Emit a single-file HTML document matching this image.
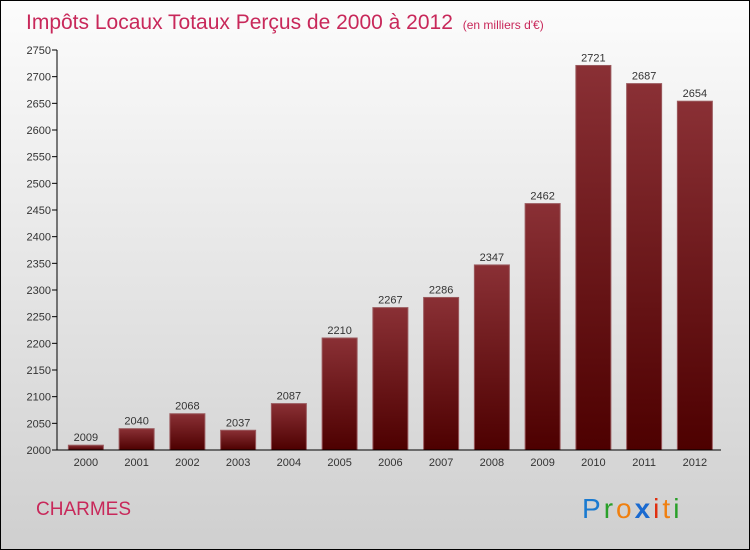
<!DOCTYPE html>
<html><head><meta charset="utf-8"><style>
body{margin:0;width:750px;height:550px;overflow:hidden}
#wrap{position:absolute;left:0;top:0;width:748px;height:548px;border:1px solid #000;background:linear-gradient(#fcfcfc,#cfcfcf)}
text{font-family:"Liberation Sans",sans-serif}
</style></head><body>
<div id="wrap">
<svg id="chart" width="750" height="550" style="position:absolute;left:-1px;top:-1px">
<defs><linearGradient id="bg" x1="0" y1="0" x2="0" y2="1"><stop offset="0" stop-color="#8a3035"/><stop offset="1" stop-color="#4d0000"/></linearGradient></defs>
<text x="26" y="29" font-size="21" fill="#c8285a">Impôts Locaux Totaux Perçus de 2000 à 2012 <tspan font-size="12" dx="4">(en milliers d'€)</tspan></text>
<text x="36" y="515" font-size="19" fill="#c8285a">CHARMES</text>
<text x="582" y="518" font-size="28" letter-spacing="3"><tspan fill="#1a7ad0">P</tspan><tspan fill="#2aa02a">r</tspan><tspan fill="#f08010">o</tspan><tspan fill="#1a6ad0" font-weight="bold">x</tspan><tspan fill="#e03010">i</tspan><tspan fill="#f08010">t</tspan><tspan fill="#2aa02a">i</tspan></text>
</svg>
</div>
<script>
const years=["2000","2001","2002","2003","2004","2005","2006","2007","2008","2009","2010","2011","2012"];
const values=[2009,2040,2068,2037,2087,2210,2267,2286,2347,2462,2721,2687,2654];
const yTicks=[2000,2050,2100,2150,2200,2250,2300,2350,2400,2450,2500,2550,2600,2650,2700,2750];
const svg=document.getElementById('chart');const NS='http://www.w3.org/2000/svg';
const yMin=2000,yMax=2750,pTop=50,pBot=450,x0=60.5,step=50.75,bw=35;
const y=v=>pBot-(v-yMin)/(yMax-yMin)*(pBot-pTop);
const xc=i=>x0+step*(i+0.5);
function mk(t,a){const e=document.createElementNS(NS,t);for(const k in a)e.setAttribute(k,a[k]);svg.appendChild(e);return e;}
yTicks.forEach(t=>{
 const l=mk('line',{x1:52,x2:57,y1:y(t),y2:y(t),stroke:'#000'});
 
 
 const tx=mk('text',{x:51,y:y(t)+4,'font-size':11,'text-anchor':'end',fill:'#333'});tx.textContent=t;
 
 
});
values.forEach((v,i)=>{
 const r=mk('rect',{x:xc(i)-bw/2,y:y(v),width:bw,height:pBot-y(v),fill:'url(#bg)',stroke:'#9a5a5e','stroke-width':1});
 
 
 const vl=mk('text',{x:xc(i),y:y(v)-4,'font-size':11,'text-anchor':'middle',fill:'#333'});vl.textContent=v;
 
 
 const xl=mk('text',{x:xc(i),y:466,'font-size':11,'text-anchor':'middle',fill:'#333'});xl.textContent=years[i];
 
 
});
const ya=mk('line',{x1:57,x2:57,y1:pTop,y2:pBot,stroke:'#000'});


const xa=mk('line',{x1:57,x2:721,y1:pBot,y2:pBot,stroke:'#000'});


</script>
</body></html>
